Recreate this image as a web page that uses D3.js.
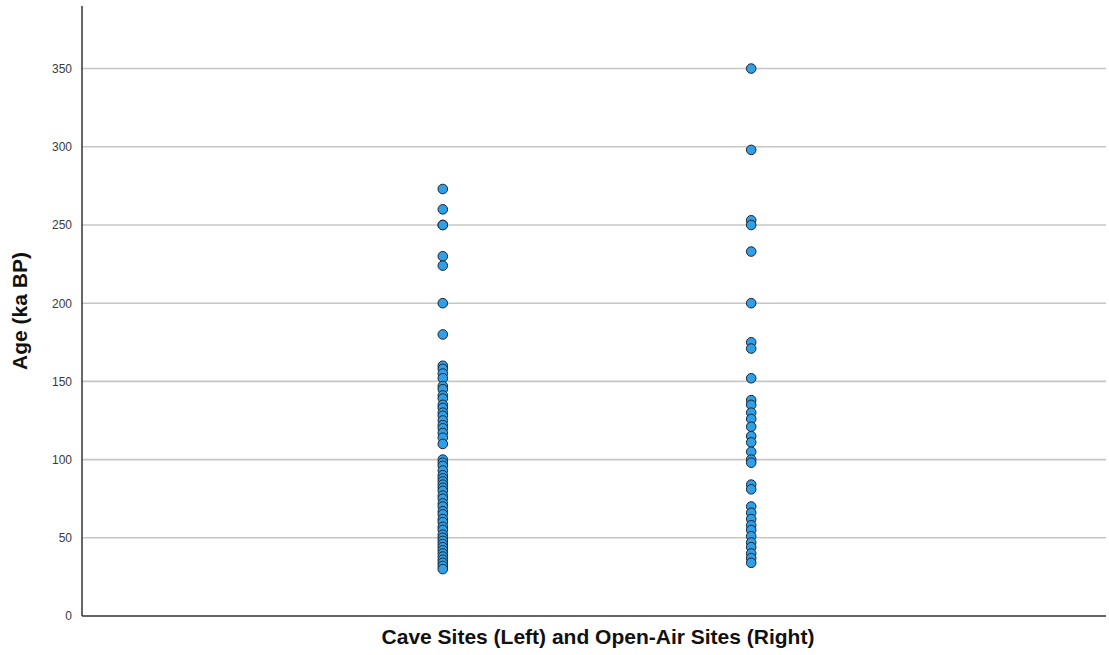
<!DOCTYPE html>
<html>
<head>
<meta charset="utf-8">
<script src="https://cdn.jsdelivr.net/npm/d3@7/dist/d3.min.js"></script>
<style>
  html, body { margin: 0; padding: 0; background: #fff; }
  svg { display: block; }
</style>
</head>
<body>
<svg id="chart" width="1109" height="655"></svg>
<script>
// Site groups plotted as columns
const groups = ["Cave Sites", "Open-Air Sites"];

// Ages (ka BP) for cave sites
const caveAges = [273, 260, 250, 250, 230, 224, 200, 180, 160, 158, 155, 152, 147, 145,
  141, 139, 135, 133, 130, 128, 125, 122, 120, 117, 114, 110, 100, 98, 96, 93, 90, 88,
  86, 84, 82, 80, 77, 75, 72, 70, 67, 65, 62, 60, 57, 55, 52, 50, 48, 46, 44, 42, 40,
  38, 36, 34, 32, 30];

// Ages (ka BP) for open-air sites
const openAirAges = [350, 298, 253, 250, 233, 200, 175, 171, 152, 138, 135, 130, 126,
  121, 115, 111, 105, 100, 98, 84, 81, 70, 66, 62, 58, 55, 51, 47, 44, 40, 37, 34];

const yTicks = [0, 50, 100, 150, 200, 250, 300, 350];
const yTitle = "Age (ka BP)";
const xTitle = "Cave Sites (Left) and Open-Air Sites (Right)";

const svg = d3.select("#chart");
const plotLeft = 82, plotRight = 1106, plotTop = 6, plotBottom = 616;

const x = d3.scalePoint().domain(groups).range([plotLeft, plotRight + 6]).padding(1.17);
const y = d3.scaleLinear().domain([0, 390]).range([plotBottom, plotTop]);

// Horizontal gridlines
svg.append("g")
  .selectAll("line")
  .data(yTicks.filter(d => d > 0))
  .join("line")
  .attr("x1", plotLeft).attr("x2", plotRight)
  .attr("y1", d => y(d)).attr("y2", d => y(d))
  .attr("stroke", "#c6c6c6")
  .attr("stroke-width", 1.6);

// Y axis
const yAxis = svg.append("g")
  .attr("transform", `translate(${plotLeft},0)`)
  .call(d3.axisLeft(y).tickValues(yTicks).tickSize(0).tickPadding(10));
yAxis.select(".domain").remove();
yAxis.selectAll("text")
  .attr("font-family", "Liberation Sans, Arial, sans-serif")
  .attr("font-size", 12)
  .attr("fill", "#3a3a3a");

svg.append("line")
  .attr("x1", plotLeft).attr("x2", plotLeft)
  .attr("y1", plotTop).attr("y2", plotBottom)
  .attr("stroke", "#333").attr("stroke-width", 1.5);

svg.append("line")
  .attr("x1", plotLeft).attr("x2", plotRight)
  .attr("y1", plotBottom).attr("y2", plotBottom)
  .attr("stroke", "#333").attr("stroke-width", 1.5);

// Points
const points = [
  ...caveAges.map(v => ({ g: groups[0], v })),
  ...openAirAges.map(v => ({ g: groups[1], v }))
];
svg.append("g")
  .selectAll("circle")
  .data(points)
  .join("circle")
  .attr("cx", d => x(d.g))
  .attr("cy", d => y(d.v))
  .attr("r", 4.8)
  .attr("fill", "#2f9fe8")
  .attr("stroke", "#1c2630")
  .attr("stroke-width", 1);

// Axis titles
svg.append("text")
  .attr("transform", `translate(27,${(plotTop + plotBottom) / 2}) rotate(-90)`)
  .attr("text-anchor", "middle")
  .attr("font-family", "Liberation Sans, Arial, sans-serif")
  .attr("font-weight", "bold")
  .attr("font-size", 21)
  .attr("fill", "#111")
  .text(yTitle);

svg.append("text")
  .attr("x", 598)
  .attr("y", 644)
  .attr("text-anchor", "middle")
  .attr("font-family", "Liberation Sans, Arial, sans-serif")
  .attr("font-weight", "bold")
  .attr("font-size", 21)
  .attr("fill", "#111")
  .text(xTitle);
</script>
</body>
</html>
